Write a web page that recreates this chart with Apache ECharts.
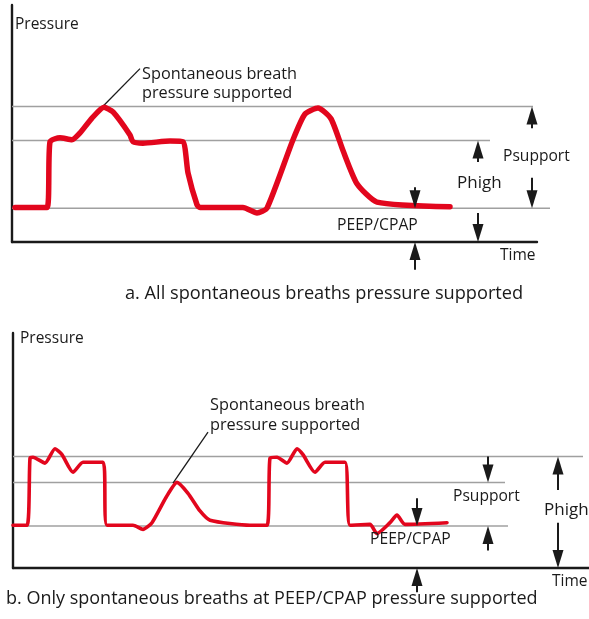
<!DOCTYPE html>
<html>
<head>
<meta charset="utf-8">
<script src="https://cdn.jsdelivr.net/npm/echarts@6/dist/echarts.min.js"></script>
<style>
  html, body { margin: 0; padding: 0; background: #fff; }
  #chart { width: 589px; height: 619px; }
</style>
</head>
<body>
<div id="chart"></div>
<script>
// ---- Panel a: every spontaneous breath gets pressure support ----
// time in s, pressure in cmH2O
const timeA = [0.06, 0.70, 0.76, 0.96, 1.20, 1.36, 1.60, 1.84, 2.02, 2.36, 2.42, 2.62, 3.16, 3.42, 3.52, 3.70, 3.76, 4.62, 4.90, 5.10, 5.62, 5.86, 6.12, 6.38, 6.62, 6.90, 7.30, 8.76];
const pressureA = [5.1, 5.1, 14.8, 15.4, 15.1, 16.1, 18.3, 19.9, 19.2, 15.8, 14.8, 14.6, 14.9, 14.8, 10.2, 5.5, 5.1, 5.1, 4.3, 5.0, 15.1, 18.9, 19.8, 18.2, 13.5, 8.6, 5.9, 5.2];
const levelsA = { peep: 5, phigh: 15, support: 20 };
const levelEndsA = { peep: 10.76, phigh: 9.56, support: 10.42 };
const axisMaxA = { time: 10.5, pressure: 35 };
// arrows: [time, from pressure, to pressure]
const arrowsA = [
  [10.4, 16.8, 20], [10.4, 9.5, 5],     // Psupport
  [9.32, 11.8, 15], [9.32, 4.3, 0],     // Phigh
  [8.06, 8.1, 5], [8.06, -4.1, 0]       // PEEP/CPAP
];
const leaderA = [[2.56, 25.6], [1.80, 19.9]];

// ---- Panel b: only breaths at PEEP/CPAP get pressure support ----
const timeB = [0.00, 0.28, 0.34, 0.40, 0.64, 0.84, 0.98, 1.20, 1.40, 1.80, 1.88, 2.40, 2.60, 2.78, 3.06, 3.28, 3.50, 3.74, 3.94, 4.74, 5.08, 5.14, 5.28, 5.48, 5.68, 5.80, 6.04, 6.24, 6.64, 6.74, 7.14, 7.28, 7.54, 7.68, 7.84, 8.68];
const pressureB = [5.1, 5.1, 13.1, 13.2, 12.5, 14.2, 13.5, 11.4, 12.6, 12.6, 5.1, 5.1, 4.6, 5.4, 8.4, 10.2, 8.9, 6.8, 5.7, 5.1, 5.1, 13.1, 13.2, 12.5, 14.2, 13.5, 11.4, 12.6, 12.6, 5.1, 5.2, 4.1, 5.4, 6.3, 5.2, 5.4];
const levelsB = { peep: 5, support: 10.2, phigh: 13.3 };
const levelEndsB = { peep: 9.9, support: 9.84, phigh: 11.4 };
const axisMaxB = { time: 11.52, pressure: 28 };
const arrowsB = [
  [9.5, 13.3, 10.2], [9.5, 2.1, 5.0],   // Psupport
  [10.9, 9.3, 13.3], [10.9, 5.4, 0],    // Phigh
  [8.08, 8.3, 5.0], [8.08, -2.9, 0]     // PEEP/CPAP
];
const leaderB = [[3.90, 16.2], [3.20, 10.1]];

// ---- text ----
const textA = {
  yName: 'Pressure', xName: 'Time',
  callout: ['Spontaneous breath', 'pressure supported'],
  psupport: 'Psupport', phigh: 'Phigh', peep: 'PEEP/CPAP',
  caption: 'a. All spontaneous breaths pressure supported'
};
const textB = {
  yName: 'Pressure', xName: 'Time',
  callout: ['Spontaneous breath', 'pressure supported'],
  psupport: 'Psupport', phigh: 'Phigh', peep: 'PEEP/CPAP',
  caption: 'b. Only spontaneous breaths at PEEP/CPAP pressure supported'
};

const RED = '#e2061d';
const GREY = '#a0a0a0';
const INK = '#1a1a1a';
const FONT = '"Open Sans", "Noto Sans", sans-serif';

function zip(xs, ys) { return xs.map((x, i) => [x, ys[i]]); }

function arrowRenderer(params, api) {
  const a = api.coord([api.value(0), api.value(1)]);
  const b = api.coord([api.value(0), api.value(2)]);
  const dir = Math.sign(b[1] - a[1]);
  const headLen = 18, half = 5.5;
  const baseY = b[1] - dir * headLen;
  return {
    type: 'group',
    children: [
      { type: 'line', shape: { x1: a[0], y1: a[1], x2: b[0], y2: baseY + dir * 2 },
        style: { stroke: INK, lineWidth: 2 } },
      { type: 'polygon', shape: { points: [[b[0], b[1]], [b[0] - half, baseY], [b[0] + half, baseY]] },
        style: { fill: INK } }
    ]
  };
}

function levelRenderer(params, api) {
  const a = api.coord([0, api.value(1)]);
  const b = api.coord([api.value(0), api.value(1)]);
  return { type: 'line', shape: { x1: a[0], y1: a[1], x2: b[0], y2: b[1] },
           style: { stroke: GREY, lineWidth: 1.5 } };
}

function levelData(levels, ends) {
  return Object.keys(levels).map(k => [ends[k], levels[k]]);
}

function axes(idx, max) {
  return {
    x: { type: 'value', gridIndex: idx, min: 0, max: max.time,
         axisLine: { show: true, onZero: true, lineStyle: { color: INK, width: 2.4 } },
         axisTick: { show: false }, axisLabel: { show: false }, splitLine: { show: false } },
    y: { type: 'value', gridIndex: idx, min: 0, max: max.pressure,
         axisLine: { show: true, lineStyle: { color: INK, width: 2.4 } },
         axisTick: { show: false }, axisLabel: { show: false }, splitLine: { show: false } }
  };
}

function panelSeries(idx, t, p, levels, ends, arrows, leader, width) {
  return [
    { type: 'custom', xAxisIndex: idx, yAxisIndex: idx, renderItem: levelRenderer,
      data: levelData(levels, ends), clip: false, silent: true, z: 1 },
    { type: 'line', xAxisIndex: idx, yAxisIndex: idx, data: zip(t, p), smooth: 0.2,
      symbol: 'none', clip: false, silent: true, z: 3,
      lineStyle: { color: RED, width: width, cap: 'round', join: 'round' } },
    { type: 'line', xAxisIndex: idx, yAxisIndex: idx, data: leader, symbol: 'none',
      clip: false, silent: true, z: 2, lineStyle: { color: INK, width: 1.3 } },
    { type: 'custom', xAxisIndex: idx, yAxisIndex: idx, renderItem: arrowRenderer,
      data: arrows, clip: false, silent: true, z: 4, encode: { x: 0, y: [1, 2] } }
  ];
}

// text placed by its left edge and vertical centre
function label(text, x, y, size) {
  return { type: 'text', x: x, y: y, z: 10,
           style: { text: text, fill: INK, font: size + 'px ' + FONT,
                    align: 'left', verticalAlign: 'middle' } };
}

const axA = axes(0, axisMaxA);
const axB = axes(1, axisMaxB);

const chart = echarts.init(document.getElementById('chart'), null, { renderer: 'canvas' });
chart.setOption({
  animation: false,
  backgroundColor: '#fff',
  grid: [
    { left: 12, top: 5, width: 525, height: 237 },
    { left: 13, top: 333, width: 576, height: 235 }
  ],
  xAxis: [axA.x, axB.x],
  yAxis: [axA.y, axB.y],
  series: [
    ...panelSeries(0, timeA, pressureA, levelsA, levelEndsA, arrowsA, leaderA, 5.5),
    ...panelSeries(1, timeB, pressureB, levelsB, levelEndsB, arrowsB, leaderB, 3.6)
  ],
  graphic: [
    label(textA.yName, 15, 25, 15.5),
    label(textA.callout[0], 142, 74, 16.3),
    label(textA.callout[1], 142, 93, 16.3),
    label(textA.psupport, 503, 157, 15.6),
    label(textA.phigh, 457, 183, 17),
    label(textA.peep, 337, 226, 15.7),
    label(textA.xName, 500, 256, 15.5),
    label(textA.caption, 125, 294, 18.2),

    label(textB.yName, 20, 339, 15.5),
    label(textB.callout[0], 210, 405, 16.3),
    label(textB.callout[1], 210, 425, 16.3),
    label(textB.psupport, 453, 497, 15.6),
    label(textB.phigh, 544, 510, 17),
    label(textB.peep, 370, 540, 15.7),
    label(textB.xName, 552, 582, 15.5),
    label(textB.caption, 6, 599, 18)
  ]
});
</script>
</body>
</html>
